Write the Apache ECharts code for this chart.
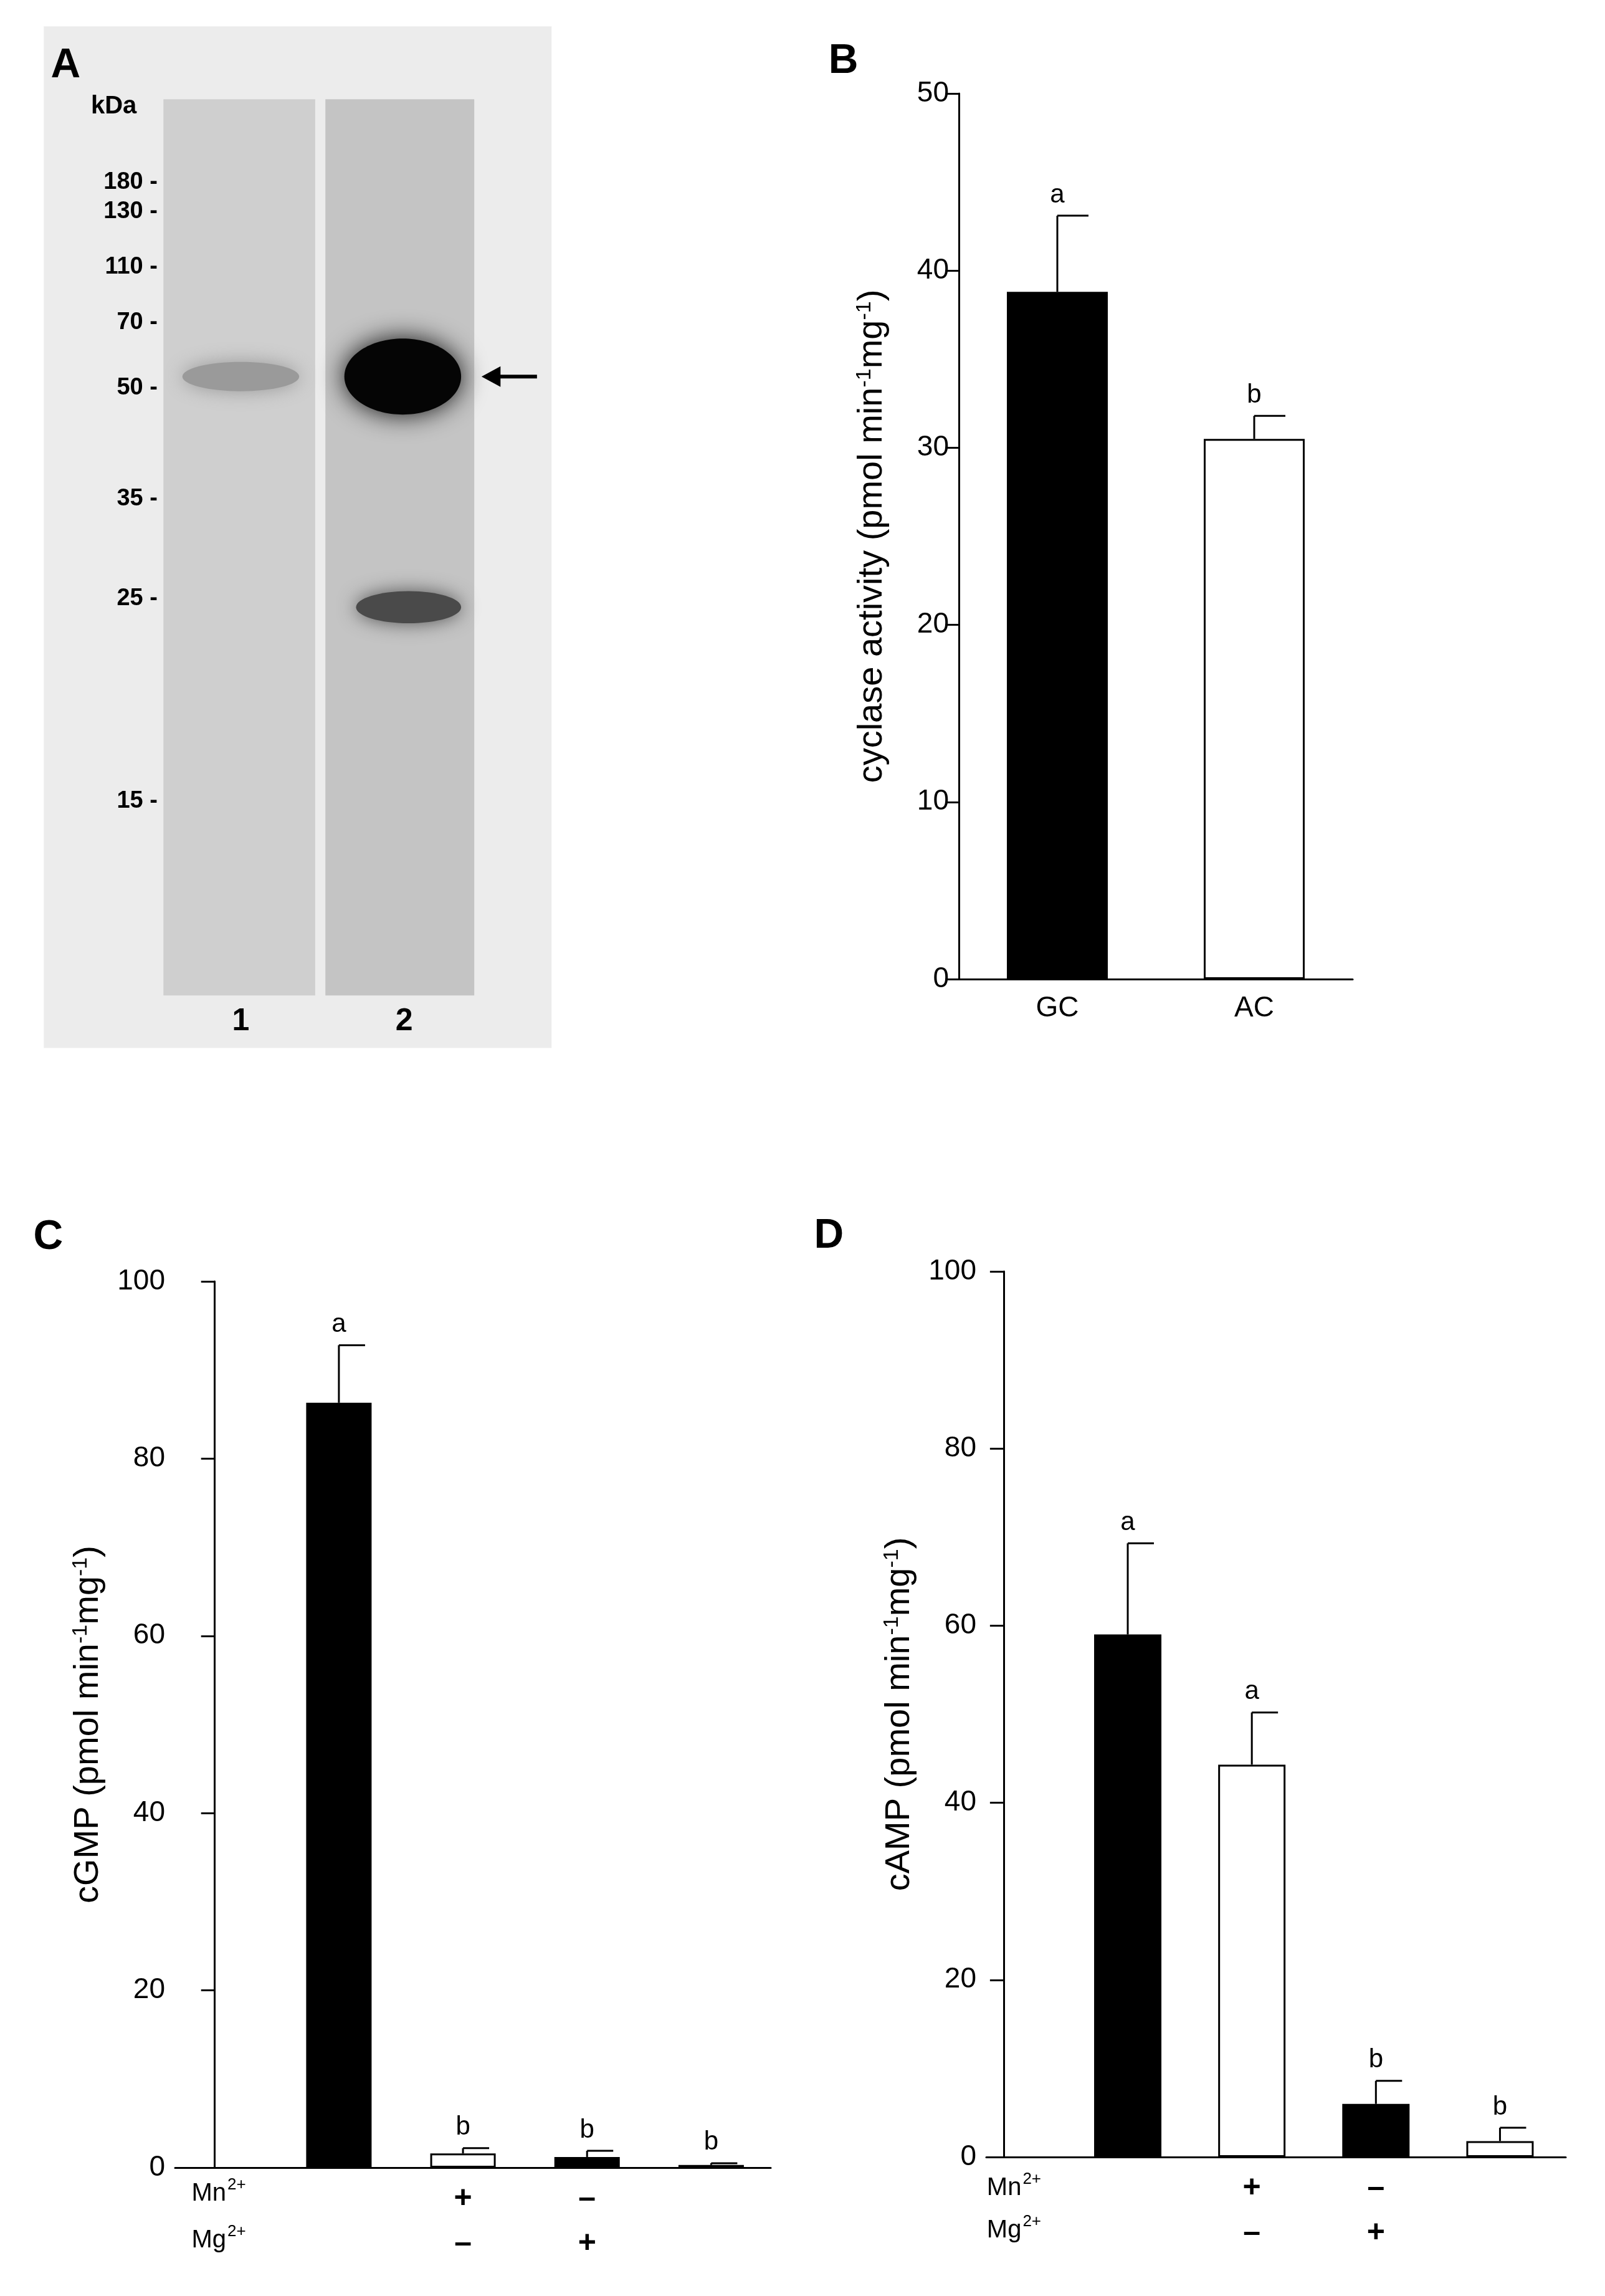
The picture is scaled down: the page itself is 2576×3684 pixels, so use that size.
<!DOCTYPE html>
<html><head><meta charset="utf-8">
<script src="https://cdn.jsdelivr.net/npm/echarts@6/dist/echarts.min.js"></script>
<style>html,body{margin:0;background:#fff}#c{width:2576px;height:3684px}</style>
</head><body><div id="c"></div>
<script>
// panel B
var bCats = ['GC', 'AC'];
var bMean = [38.8, 30.5];
var bErr = [43.1, 31.8];
var bSig = ['a', 'b'];
// panel C (x positions = slot index)
var cPos = [1, 2, 3, 4];
var cMean = [86.3, 1.6, 1.2, 0.3];
var cErr = [92.8, 2.2, 1.9, 0.5];
var cSig = ['a', 'b', 'b', 'b'];
// panel D
var dMean = [59.0, 44.3, 6.0, 1.8];
var dErr = [69.3, 50.2, 8.6, 3.3];
var dSig = ['a', 'a', 'b', 'b'];
var mnRow = ['+', '+', '\u2013', '\u2013'];
var mgRow = ['+', '\u2013', '+', '\u2013'];
var fills = ['#000', '#fff', '#000', '#fff'];
// panel A markers
var kdaLabels = ['180 -', '130 -', '110 -', '70 -', '50 -', '35 -', '25 -', '15 -'];
var kdaY = [125, 145, 183, 221, 266, 342, 410, 549];

var S = 2.342;
var FONT = 'Liberation Sans, Arial, sans-serif';
var myChart = echarts.init(document.getElementById('c'));

function errSeries(xi, yi, pos, mean, err, sig, cap) {
  return {
    type: 'custom', xAxisIndex: xi, yAxisIndex: yi, z: 5,
    data: mean.map(function (m, i) { return [pos[i], m, err[i], sig[i]]; }),
    renderItem: function (params, api) {
      var lo = api.coord([api.value(0), api.value(1)]);
      var hi = api.coord([api.value(0), api.value(2)]);
      var st = { stroke: '#000', lineWidth: 3 };
      return { type: 'group', children: [
        { type: 'line', shape: { x1: lo[0], y1: lo[1], x2: hi[0], y2: hi[1] }, style: st },
        { type: 'line', shape: { x1: hi[0], y1: hi[1], x2: hi[0] + cap, y2: hi[1] }, style: st },
        { type: 'text', x: hi[0], y: hi[1] - 12, style: { text: sig[params.dataIndex], fill: '#000',
          font: '42px ' + FONT, align: 'center', verticalAlign: 'bottom' } }
      ] };
    }
  };
}

function yAxisOf(gi, max, interval, nameText) {
  return {
    type: 'value', gridIndex: gi, min: 0, max: max, interval: interval,
    name: nameText, nameLocation: 'middle', nameGap: 110,
    nameTextStyle: { fontSize: 56, fontFamily: FONT, color: '#000',
      rich: { sup: { fontSize: 34, verticalAlign: 'top', padding: [0, 0, 24, 0] } } },
    axisLine: { show: true, lineStyle: { color: '#000', width: 3 } },
    axisTick: { show: true, length: 22, lineStyle: { color: '#000', width: 3 } },
    axisLabel: { fontSize: 46, fontFamily: FONT, color: '#000', margin: 16 },
    splitLine: { show: false }
  };
}

var graphic = [
  { type: 'rect', shape: { x: 30 * S, y: 18 * S, width: 348 * S, height: 700 * S }, style: { fill: '#ececec' } },
  { type: 'rect', shape: { x: 112 * S, y: 68 * S, width: 104 * S, height: 614 * S }, style: { fill: '#cfcfcf' } },
  { type: 'rect', shape: { x: 223 * S, y: 68 * S, width: 102 * S, height: 614 * S }, style: { fill: '#c4c4c4' } },
  { type: 'ellipse', shape: { cx: 165 * S, cy: 258 * S, rx: 40 * S, ry: 10 * S }, style: { fill: '#9a9a9a', shadowBlur: 30, shadowColor: '#9a9a9a' } },
  { type: 'ellipse', shape: { cx: 276 * S, cy: 258 * S, rx: 40 * S, ry: 26 * S }, style: { fill: '#050505', shadowBlur: 40, shadowColor: '#111' } },
  { type: 'ellipse', shape: { cx: 280 * S, cy: 416 * S, rx: 36 * S, ry: 11 * S }, style: { fill: '#4a4a4a', shadowBlur: 30, shadowColor: '#555' } },
  { type: 'line', shape: { x1: 335 * S, y1: 258 * S, x2: 368 * S, y2: 258 * S }, style: { stroke: '#000', lineWidth: 6 } },
  { type: 'polygon', shape: { points: [[330 * S, 258 * S], [343 * S, 251 * S], [343 * S, 265 * S]] }, style: { fill: '#000' } },
  { type: 'text', x: 78 * S, y: 73 * S, style: { text: 'kDa', font: 'bold 40px ' + FONT, fill: '#000', align: 'center', verticalAlign: 'middle' } },
  { type: 'text', x: 165 * S, y: 700 * S, style: { text: '1', font: 'bold 50px ' + FONT, fill: '#000', align: 'center', verticalAlign: 'middle' } },
  { type: 'text', x: 277 * S, y: 700 * S, style: { text: '2', font: 'bold 50px ' + FONT, fill: '#000', align: 'center', verticalAlign: 'middle' } },
  { type: 'text', x: 45 * S, y: 45 * S, style: { text: 'A', font: 'bold 66px ' + FONT, fill: '#000', align: 'center', verticalAlign: 'middle' } },
  { type: 'text', x: 578 * S, y: 42 * S, style: { text: 'B', font: 'bold 66px ' + FONT, fill: '#000', align: 'center', verticalAlign: 'middle' } },
  { type: 'text', x: 33 * S, y: 848 * S, style: { text: 'C', font: 'bold 66px ' + FONT, fill: '#000', align: 'center', verticalAlign: 'middle' } },
  { type: 'text', x: 568 * S, y: 847 * S, style: { text: 'D', font: 'bold 66px ' + FONT, fill: '#000', align: 'center', verticalAlign: 'middle' } }
];
kdaLabels.forEach(function (t, i) {
  graphic.push({ type: 'text', x: 108 * S, y: kdaY[i] * S, style: { text: t, font: 'bold 38px ' + FONT, fill: '#000', align: 'right', verticalAlign: 'middle' } });
});
[[155, 1503], [155, 1535]].forEach(function (p, i) {
  graphic.push({ type: 'text', x: p[0] * S, y: p[1] * S, style: { text: i ? 'Mg' : 'Mn', font: '40px ' + FONT, fill: '#000', align: 'right', verticalAlign: 'middle' } });
  graphic.push({ type: 'text', x: p[0] * S + 2, y: p[1] * S - 14, style: { text: '2+', font: '26px ' + FONT, fill: '#000', align: 'left', verticalAlign: 'middle' } });
});
[[700, 1499], [700, 1528]].forEach(function (p, i) {
  graphic.push({ type: 'text', x: p[0] * S, y: p[1] * S, style: { text: i ? 'Mg' : 'Mn', font: '40px ' + FONT, fill: '#000', align: 'right', verticalAlign: 'middle' } });
  graphic.push({ type: 'text', x: p[0] * S + 2, y: p[1] * S - 14, style: { text: '2+', font: '26px ' + FONT, fill: '#000', align: 'left', verticalAlign: 'middle' } });
});

function signLabel(v) {
  var i = cPos.indexOf(v);
  return i < 0 ? '' : mnRow[i] + '\n' + mgRow[i];
}
function xValAxis(gi, min, max) {
  return {
    type: 'value', gridIndex: gi, min: min, max: max,
    axisLine: { show: true, onZero: false, lineStyle: { color: '#000', width: 3 } },
    axisTick: { show: false }, splitLine: { show: false },
    axisLabel: { customValues: cPos, formatter: signLabel, fontSize: 50, lineHeight: 72,
      fontWeight: 'bold', fontFamily: FONT, color: '#000', margin: 14, showMinLabel: false, showMaxLabel: false }
  };
}

var option = {
  backgroundColor: '#fff',
  animation: false,
  graphic: graphic,
  grid: [
    { left: 1539, top: 150, width: 632, height: 1421 },
    { left: 281, top: 2056, width: 956, height: 1422 },
    { left: 1583, top: 2040, width: 930, height: 1421 }
  ],
  xAxis: [
    { type: 'category', gridIndex: 0, data: bCats,
      axisLine: { lineStyle: { color: '#000', width: 3 } }, axisTick: { show: false },
      axisLabel: { fontSize: 46, fontFamily: FONT, color: '#000', margin: 24 } },
    xValAxis(1, -0.32, 4.48),
    xValAxis(2, -0.14, 4.53)
  ],
  yAxis: [
    yAxisOf(0, 50, 10, 'cyclase activity (pmol min{sup|-1}mg{sup|-1})'),
    yAxisOf(1, 100, 20, 'cGMP (pmol min{sup|-1}mg{sup|-1})'),
    yAxisOf(2, 100, 20, 'cAMP (pmol min{sup|-1}mg{sup|-1})')
  ],
  series: [
    { type: 'bar', xAxisIndex: 0, yAxisIndex: 0, barWidth: 162,
      data: bMean.map(function (v, i) { return { value: v, itemStyle: { color: fills[i], borderColor: '#000', borderWidth: 3 } }; }) },
    errSeries(0, 0, [0, 1], bMean, bErr, bSig, 50),
    { type: 'bar', xAxisIndex: 1, yAxisIndex: 1, barWidth: 105,
      data: cMean.map(function (v, i) { return { value: [cPos[i], v], itemStyle: { color: fills[i], borderColor: '#000', borderWidth: 3 } }; }) },
    errSeries(1, 1, cPos, cMean, cErr, cSig, 42),
    { type: 'bar', xAxisIndex: 2, yAxisIndex: 2, barWidth: 108,
      data: dMean.map(function (v, i) { return { value: [cPos[i], v], itemStyle: { color: fills[i], borderColor: '#000', borderWidth: 3 } }; }) },
    errSeries(2, 2, cPos, dMean, dErr, dSig, 42)
  ]
};
myChart.setOption(option);
</script></body></html>
